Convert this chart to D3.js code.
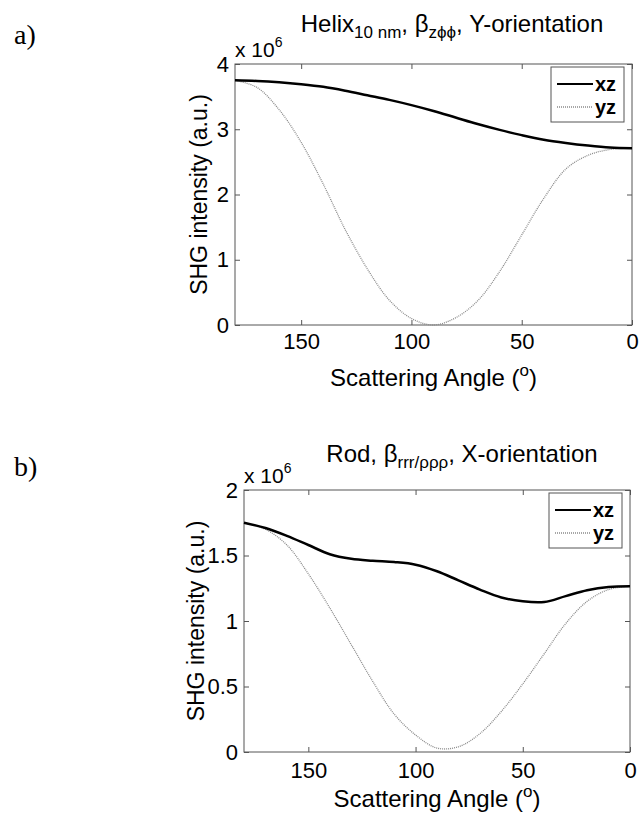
<!DOCTYPE html>
<html>
<head>
<meta charset="utf-8">
<script src="https://cdn.jsdelivr.net/npm/d3@7"></script>
<style>
  body { margin: 0; background: #fff; }
  svg text { font-family: "Liberation Sans", Arial, sans-serif; fill: #000; }
</style>
</head>
<body>
<div id="chart"></div>
<script>
// scattering angles (degrees), shared by both panels
const angles = [180, 170, 160, 150, 140, 130, 120, 110, 100, 90, 80, 70, 60, 50, 40, 30, 20, 10, 0];

// panel a: Helix, Y-orientation (x 10^6)
const helixXZ = [3.75, 3.74, 3.72, 3.69, 3.65, 3.59, 3.52, 3.45, 3.37, 3.28, 3.18, 3.08, 2.99, 2.91, 2.84, 2.79, 2.75, 2.72, 2.71];
const helixYZ = [3.75, 3.64, 3.30, 2.80, 2.16, 1.46, 0.86, 0.38, 0.10, 0.00, 0.11, 0.37, 0.82, 1.38, 1.94, 2.39, 2.60, 2.69, 2.71];

// panel b: Rod, X-orientation (x 10^6)
const rodXZ = [1.75, 1.71, 1.65, 1.58, 1.51, 1.475, 1.46, 1.45, 1.43, 1.38, 1.31, 1.24, 1.18, 1.15, 1.145, 1.19, 1.235, 1.26, 1.265];
const rodYZ = [1.75, 1.70, 1.58, 1.36, 1.10, 0.82, 0.54, 0.29, 0.13, 0.03, 0.04, 0.14, 0.31, 0.52, 0.75, 0.98, 1.15, 1.24, 1.265];

const xTicks = [150, 100, 50, 0];
const helixTicks = [0, 1, 2, 3, 4];
const rodTicks = [0, 0.5, 1, 1.5, 2];
const seriesNames = ["xz", "yz"];

const svg = d3.select("#chart").append("svg")
    .attr("width", 641)
    .attr("height", 814);

// one MATLAB-style panel
function drawPanel(opt) {
    const g = svg.append("g");
    const x = d3.scaleLinear().domain([180, 0]).range([opt.left, opt.right]);
    const y = d3.scaleLinear().domain([0, opt.yMax]).range([opt.bottom, opt.top]);

    // panel letter
    g.append("text")
        .attr("x", 14).attr("y", opt.letterY)
        .style("font-family", "'Liberation Serif', serif")
        .style("font-size", "28px")
        .text(opt.letter);

    // box
    g.append("rect")
        .attr("x", opt.left).attr("y", opt.top)
        .attr("width", opt.right - opt.left).attr("height", opt.bottom - opt.top)
        .attr("fill", "#fff").attr("stroke", "#555").attr("stroke-width", 1);

    // axes with inward ticks, mirrored on top/right
    g.append("g").attr("transform", `translate(0,${opt.bottom})`)
        .call(d3.axisBottom(x).tickValues(xTicks).tickSizeInner(-5).tickSizeOuter(0).tickPadding(opt.xPad))
        .call(a => a.select(".domain").remove());
    g.append("g").attr("transform", `translate(0,${opt.top})`)
        .call(d3.axisTop(x).tickValues(xTicks).tickSizeInner(-5).tickSizeOuter(0).tickFormat(""))
        .call(a => a.select(".domain").remove());
    g.append("g").attr("transform", `translate(${opt.left},0)`)
        .call(d3.axisLeft(y).tickValues(opt.yTicks).tickSizeInner(-5).tickSizeOuter(0).tickPadding(6).tickFormat(d3.format("")))
        .call(a => a.select(".domain").remove());
    g.append("g").attr("transform", `translate(${opt.right},0)`)
        .call(d3.axisRight(y).tickValues(opt.yTicks).tickSizeInner(-5).tickSizeOuter(0).tickFormat(""))
        .call(a => a.select(".domain").remove());
    g.selectAll(".tick line").attr("stroke", "#555");
    g.selectAll(".tick text").style("font-size", "22px").attr("fill", "#000");

    // curves
    const line = vals => d3.line()
        .x((d, i) => x(angles[i]))
        .y(d => y(d))
        .curve(d3.curveCatmullRom)(vals);

    g.append("path").attr("d", line(opt.yz))
        .attr("fill", "none").attr("stroke", "#8a8a8a")
        .attr("stroke-width", 1.3).attr("stroke-dasharray", "1,1");
    g.append("path").attr("d", line(opt.xz))
        .attr("fill", "none").attr("stroke", "#000").attr("stroke-width", 2.5);

    // exponent
    const ex = g.append("text").attr("x", opt.left).attr("y", opt.top - 7).style("font-size", "21px");
    ex.append("tspan").text("x 10");
    ex.append("tspan").attr("dy", -10).style("font-size", "14px").text("6");

    // title
    const t = g.append("text").attr("x", opt.titleX).attr("y", opt.titleY)
        .attr("text-anchor", "middle").style("font-size", "24px");
    opt.title.forEach(p => {
        const s = t.append("tspan").text(p.text);
        if (p.sub) s.attr("dy", 6).style("font-size", "17px");
        if (p.back) s.attr("dy", -6);
    });

    // axis labels
    const xl = g.append("text")
        .attr("x", (opt.left + opt.right) / 2).attr("y", opt.xLabelY)
        .attr("text-anchor", "middle").style("font-size", "24px");
    xl.append("tspan").text("Scattering Angle (");
    xl.append("tspan").attr("dy", -10).style("font-size", "17px").text("o");
    xl.append("tspan").attr("dy", 10).text(")");

    g.append("text")
        .attr("transform", `translate(${opt.yLabelX},${(opt.top + opt.bottom) / 2}) rotate(-90)`)
        .attr("text-anchor", "middle").style("font-size", "23px")
        .text("SHG intensity (a.u.)");

    // legend
    const lg = g.append("g").attr("transform", `translate(${opt.right - 81},${opt.top + 3})`);
    lg.append("rect").attr("width", 73).attr("height", 55)
        .attr("fill", "#fff").attr("stroke", "#555");
    seriesNames.forEach((name, i) => {
        const ly = 17 + i * 23;
        lg.append("line").attr("x1", 6).attr("x2", 42).attr("y1", ly).attr("y2", ly)
            .attr("stroke", i === 0 ? "#000" : "#8a8a8a")
            .attr("stroke-width", i === 0 ? 2.2 : 1.3)
            .attr("stroke-dasharray", i === 0 ? null : "1,1");
        lg.append("text").attr("x", 44).attr("y", ly + 7)
            .style("font-size", "20px").style("font-weight", "bold").text(name);
    });
}

drawPanel({
    letter: "a)", letterY: 44,
    left: 235, right: 632, top: 64, bottom: 325,
    yMax: 4, yTicks: helixTicks, xz: helixXZ, yz: helixYZ,
    titleX: 452, titleY: 32,
    title: [
        { text: "Helix" }, { text: "10 nm", sub: true }, { text: ", β", back: true },
        { text: "zϕϕ", sub: true }, { text: ", Y-orientation", back: true }
    ],
    xLabelY: 386, xPad: 8, yLabelX: 207
});

drawPanel({
    letter: "b)", letterY: 476,
    left: 244, right: 630, top: 490, bottom: 752,
    yMax: 2, yTicks: rodTicks, xz: rodXZ, yz: rodYZ,
    titleX: 462, titleY: 462,
    title: [
        { text: "Rod, β" }, { text: "rrr/ρρρ", sub: true }, { text: ", X-orientation", back: true }
    ],
    xLabelY: 807, xPad: 10, yLabelX: 204
});
</script>
</body>
</html>
